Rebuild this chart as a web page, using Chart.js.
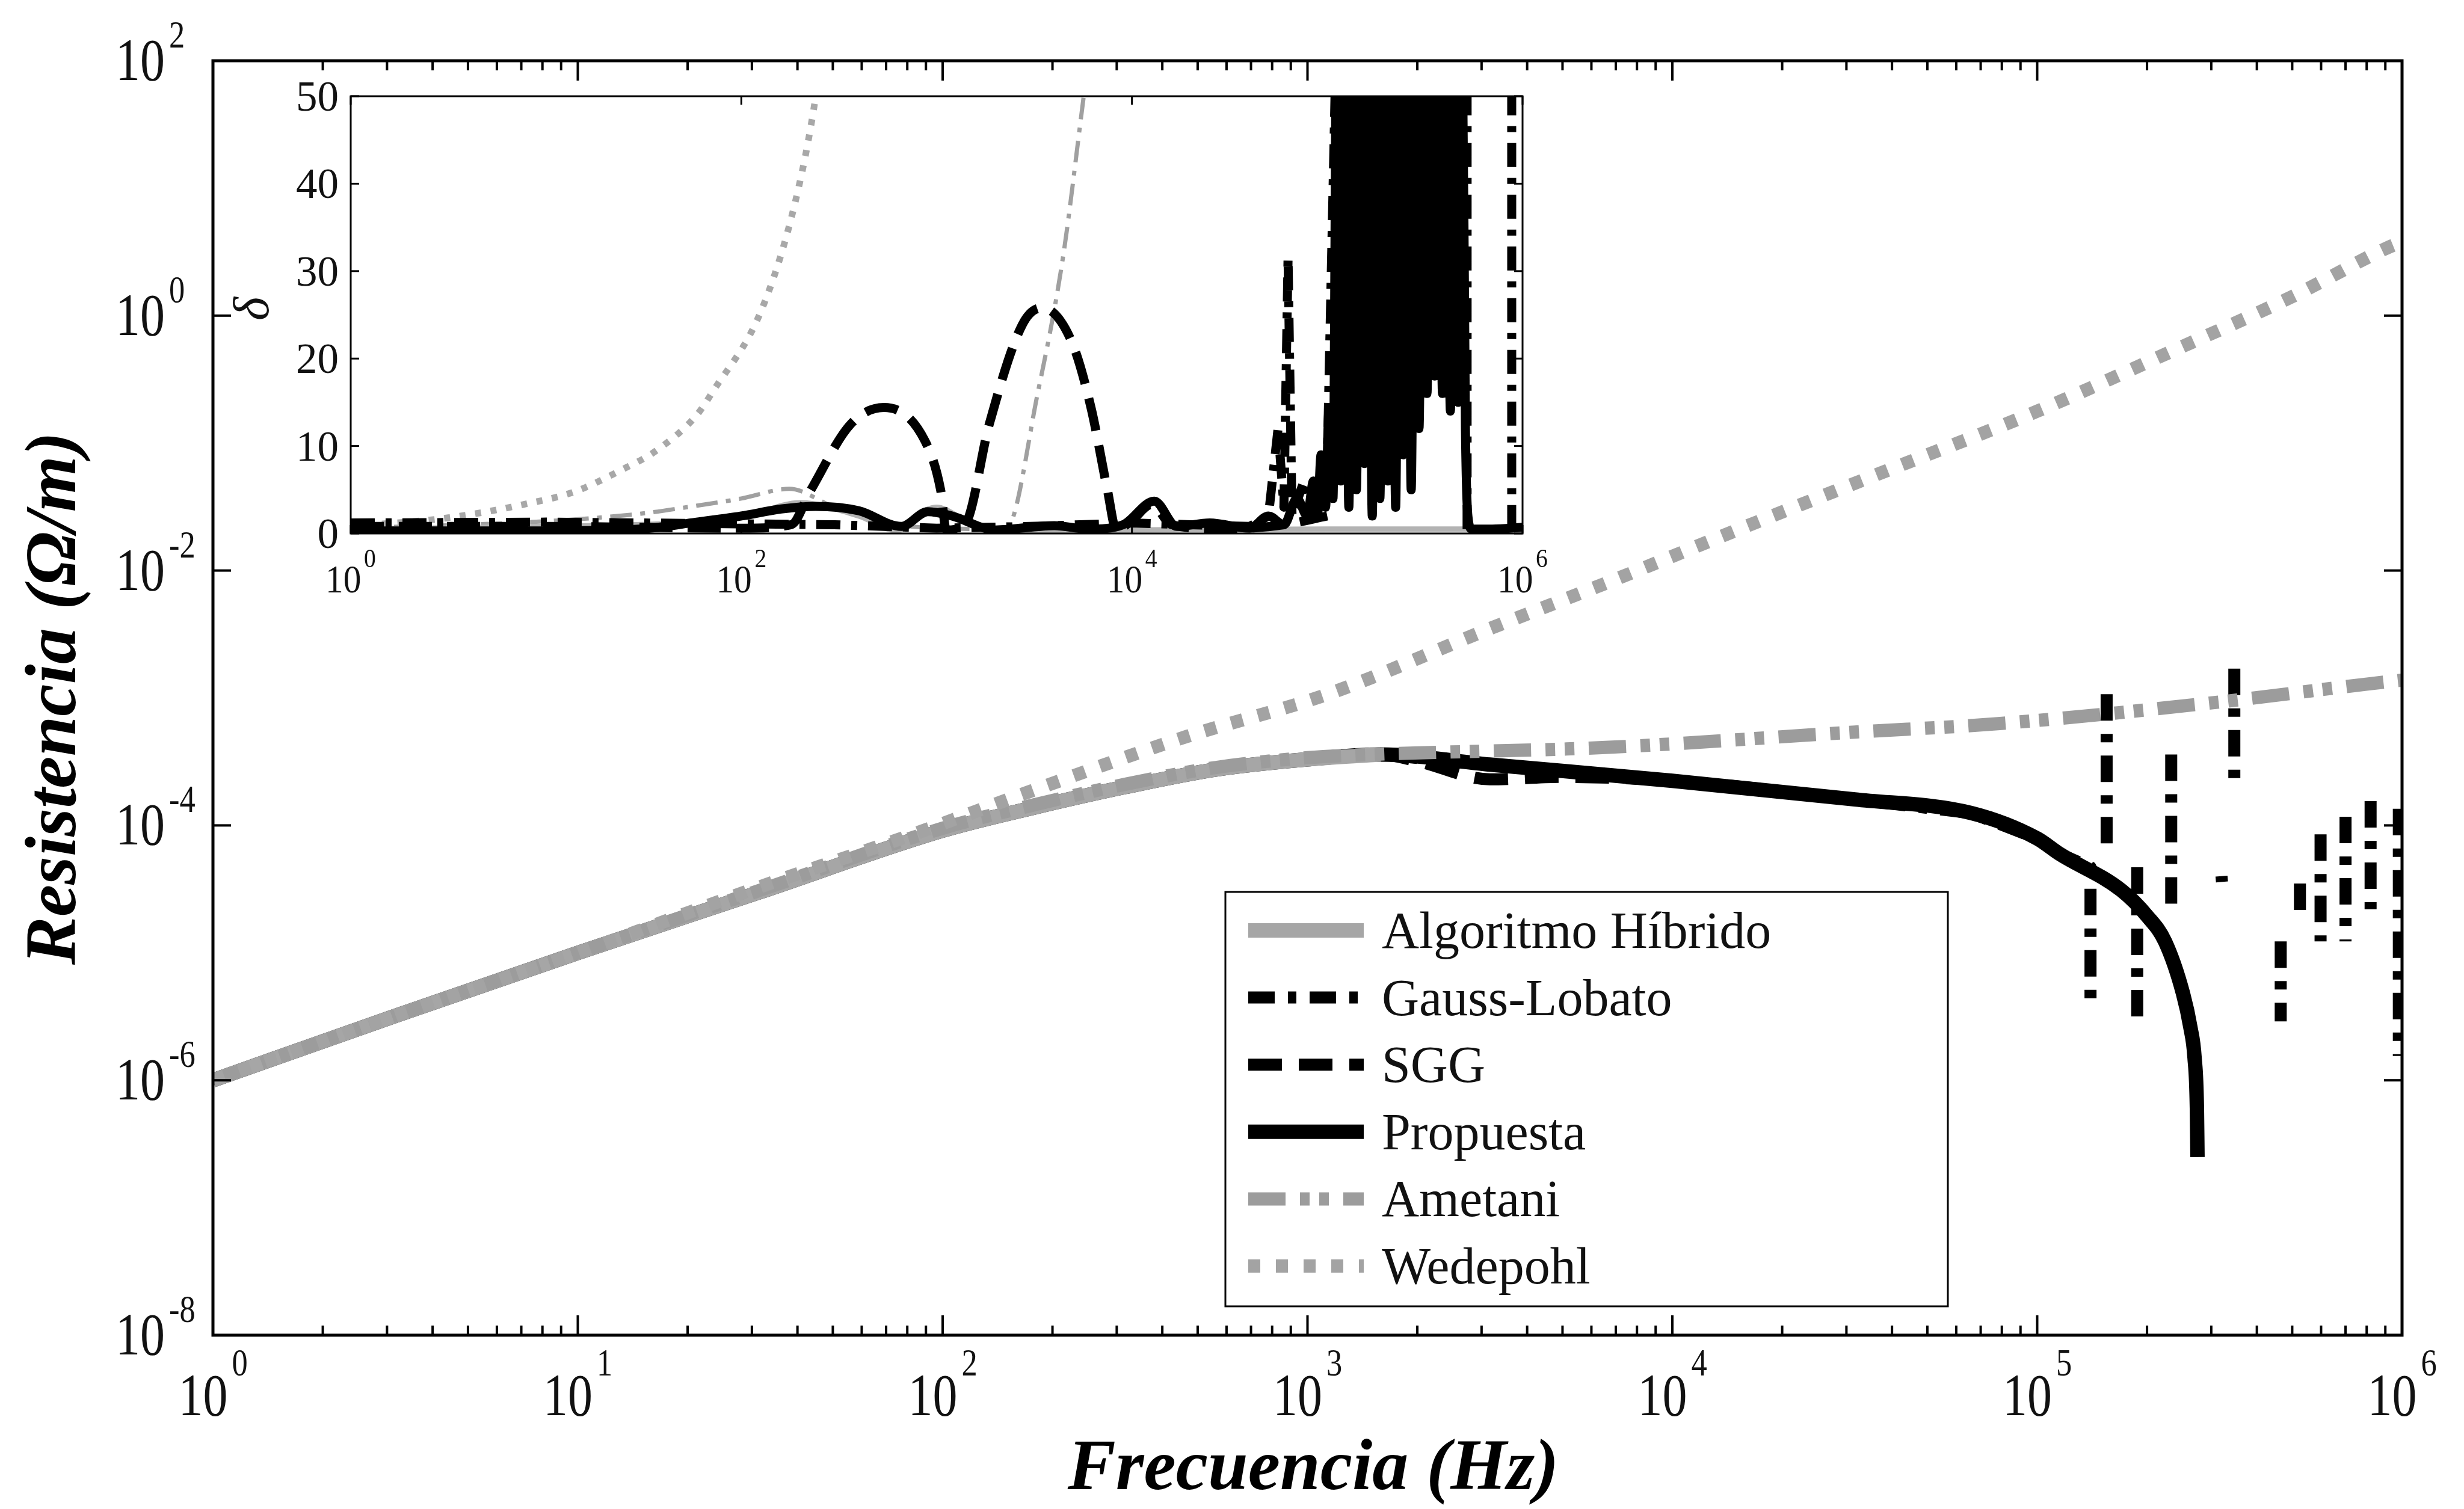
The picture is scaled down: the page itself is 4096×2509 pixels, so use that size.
<!DOCTYPE html>
<html>
<head>
<meta charset="utf-8">
<title>Resistencia vs Frecuencia</title>
<script src="https://cdn.jsdelivr.net/npm/chart.js@4.4.1/dist/chart.umd.min.js"></script>
<style>
  html, body { margin: 0; padding: 0; background: #ffffff; overflow: hidden; }
  #wrap { position: relative; width: 4096px; height: 2509px; }
  #main, #inset { position: absolute; left: 0; top: 0; }
</style>
</head>
<body>
<div id="wrap">
  <canvas id="main" width="4096" height="2509"></canvas>
  <canvas id="inset" width="2700" height="1100"></canvas>
</div>
<script>
// ---------- series names ----------
const seriesNames = ['Algoritmo Híbrido', 'Gauss-Lobato', 'SGG', 'Propuesta', 'Ametani', 'Wedepohl'];

// ---------- axis ticks ----------
const xTickExponents = [0, 1, 2, 3, 4, 5, 6];
const yTickExponents = [-8, -6, -4, -2, 0, 2];
const insetXTickExponents = [0, 2, 4, 6];
const insetYTicks = [0, 10, 20, 30, 40, 50];

const xTitle = 'Frecuencia (Hz)';
const yTitle = 'Resistencia (Ω/m)';
const insetYTitle = 'δ';

// ---------- main plot: resistance (Ω/m) vs frequency (Hz) ----------
const hibridoFreq = [1, 3.16, 10, 31.6, 100, 178, 316, 562, 1000, 1585];
const hibridoRes  = [1.0e-6, 3.2e-6, 1.0e-5, 3.0e-5, 9.1e-5, 1.38e-4, 2.0e-4, 2.75e-4, 3.3e-4, 3.6e-4];

const propFreq = [1, 3.16, 10, 31.6, 100, 178, 316, 562, 1000, 1585, 3160, 1.0e4, 3.16e4, 6.6e4, 1.0e5, 1.15e5, 1.7e5, 2.0e5, 2.24e5, 2.51e5, 2.63e5, 2.70e5, 2.74e5, 2.75e5];
const propRes  = [1.0e-6, 3.2e-6, 1.0e-5, 3.0e-5, 9.1e-5, 1.38e-4, 2.0e-4, 2.75e-4, 3.3e-4, 3.6e-4, 3.0e-4, 2.24e-4, 1.6e-4, 1.25e-4, 7.9e-5, 6.0e-5, 3.1e-5, 1.95e-5, 1.23e-5, 4.8e-6, 2.6e-6, 1.5e-6, 6.0e-7, 2.5e-7];

const sggFreq = [1, 3.16, 10, 31.6, 100, 178, 316, 562, 1000, 1585, 2000, 3160, 5000, 1.0e4, 3.16e4, 6.6e4, 1.0e5, 1.15e5, 1.7e5, 2.0e5, 2.24e5, 2.51e5, 2.63e5, 2.70e5, 2.74e5, 2.75e5];
const sggRes  = [1.0e-6, 3.2e-6, 1.0e-5, 3.0e-5, 9.1e-5, 1.38e-4, 2.0e-4, 2.75e-4, 3.3e-4, 3.6e-4, 3.2e-4, 2.3e-4, 2.4e-4, 2.24e-4, 1.6e-4, 1.25e-4, 7.9e-5, 6.0e-5, 3.1e-5, 1.95e-5, 1.23e-5, 4.8e-6, 2.6e-6, 1.5e-6, 6.0e-7, 2.5e-7];

// Gauss-Lobato breaks up into separate vertical bursts at high frequency (null = gap)
const glFreq = [1, 3.16, 10, 31.6, 100, 178, 316, 562, 1000, 1585, 3160, 1.0e4, 3.16e4, 6.6e4, 1.0e5, 1.15e5,
                1.40e5, 1.40e5, 1.47e5, 1.55e5, 1.55e5, 1.7e5, 1.88e5, 1.88e5, 2.1e5, 2.33e5, 2.33e5, 2.8e5,
                3.2e5, 3.21e5, 3.3e5, 3.47e5, 3.47e5, 4.0e5, 4.65e5, 4.65e5, 5.0e5, 5.25e5, 5.25e5, 5.6e5,
                5.98e5, 5.98e5, 6.5e5, 7.0e5, 7.0e5, 7.6e5, 8.2e5, 8.2e5, 9.0e5, 9.8e5, 9.8e5];
const glRes  = [1.0e-6, 3.2e-6, 1.0e-5, 3.0e-5, 9.1e-5, 1.38e-4, 2.0e-4, 2.75e-4, 3.3e-4, 3.6e-4, 3.0e-4, 2.24e-4, 1.6e-4, 1.25e-4, 7.9e-5, 6.0e-5,
                4.7e-5, 3.6e-6, null, 1.07e-3, 6.9e-5, null, 4.7e-5, 2.5e-6, null, 3.6e-4, 1.95e-5, null,
                4.0e-5, 3.6e-5, null, 1.7e-3, 1.9e-4, null, 1.23e-5, 2.9e-6, null, 3.5e-5, 1.8e-5, null,
                8.5e-5, 1.23e-5, null, 1.17e-4, 1.23e-5, null, 1.55e-4, 2.2e-5, null, 1.35e-4, 1.55e-6];

const ametFreq = [1, 3.16, 10, 31.6, 100, 178, 316, 562, 1000, 1480, 6680, 3.16e4, 7.9e4, 3.16e5, 8.1e5, 1.0e6];
const ametRes  = [1.0e-6, 3.2e-6, 1.0e-5, 3.1e-5, 9.5e-5, 1.45e-4, 2.1e-4, 2.85e-4, 3.4e-4, 3.6e-4, 4.1e-4, 5.4e-4, 6.3e-4, 9.3e-4, 1.29e-3, 1.38e-3];

const wedeFreq = [1, 3.16, 10, 31.6, 79, 191, 468, 1135, 3160, 6680, 1.58e4, 3.94e4, 1.0e5, 2.32e5, 5.0e5, 9.1e5, 1.0e6];
const wedeRes  = [1.0e-6, 3.2e-6, 1.0e-5, 3.3e-5, 8.1e-5, 2.04e-4, 5.0e-4, 1.07e-3, 3.5e-3, 8.1e-3, 2.2e-2, 6.2e-2, 0.178, 0.52, 1.41, 3.4, 3.8];

// ---------- inset: relative error δ vs frequency ----------
const hibInsetFreq  = [1, 10, 50, 100, 200, 400, 630, 800, 1000, 1400, 2000, 1.0e4, 1.0e5, 1.0e6];
const hibInsetDelta = [0.5, 0.8, 1.2, 1.8, 3.5, 2.0, 0.3, 2.2, 3.0, 1.5, 0.3, 0.4, 0.5, 0.5];

const glInsetFreq  = [1, 10, 100, 300, 1000, 3000, 1.0e4, 2.0e4, 4.0e4, 5.0e4, 5.6e4, 6.0e4, 6.3e4, 6.6e4, 7.6e4, 8.5e4, 1.0e5, 1.12e5, 1.26e5, 1.4e5,
                      1.5e5, 5.2e5, 5.2e5, 6.0e5, 8.8e5, 8.8e5];
const glInsetDelta = [1.2, 1.3, 1.1, 1.0, 0.6, 0.8, 1.2, 1.0, 0.8, 2.0, 12, 3.0, 31.5, 2.0, 6.0, 2.0, 8, 60, 12, 60,
                      null, 0.5, 60, null, 0.5, 60];

const sggInsetFreq  = [1, 10, 100, 180, 226, 363, 537, 871, 1050, 1120, 1400, 1860, 2750, 3470, 4900, 6170, 7500, 8320, 1.0e4, 1.26e4, 1.6e4, 3.0e4, 6.0e4, 1.0e5];
const sggInsetDelta = [0.8, 0.8, 0.6, 1.0, 4.9, 12.5, 14.4, 10.6, 4.9, 0.4, 1.1, 12.5, 23.9, 25.8, 22.0, 14.4, 4.9, 0.4, 1.5, 3.3, 1.0, 0.5, 1.0, 2.0];

const propInsetFreq  = [1, 10, 30, 59, 100, 160, 240, 400, 660, 900, 1200, 2000, 4000, 6000, 9000, 1.3e4, 1.7e4, 2.5e4, 4.0e4, 5.0e4,
                        6.0e4, 7.0e4, 7.9e4, 8.5e4, 8.9e4, 9.3e4, 9.8e4, 1.02e5, 1.07e5, 1.12e5,
                        1.17e5, 1.23e5, 1.29e5, 1.35e5, 1.41e5, 1.48e5, 1.55e5, 1.62e5, 1.70e5, 1.78e5,
                        1.86e5, 1.95e5, 2.04e5, 2.14e5, 2.24e5, 2.34e5, 2.45e5, 2.57e5, 2.69e5, 2.82e5,
                        2.95e5, 3.09e5, 3.24e5, 3.39e5, 3.55e5, 3.72e5, 3.89e5, 4.07e5, 4.27e5, 4.47e5,
                        4.68e5, 4.90e5, 5.10e5, 5.25e5, 5.5e5, 7.0e5, 1.0e6];
const propInsetDelta = [0.3, 0.3, 0.5, 1.3, 2.0, 2.8, 3.1, 2.6, 0.8, 2.5, 2.0, 0.4, 0.9, 0.5, 1.0, 3.7, 0.8, 1.2, 0.6, 2.0,
                        1.0, 4, 2, 6, 2, 9, 3, 14, 4, 60,
                        6, 60, 3, 60, 5, 60, 8, 60, 2, 60,
                        4, 60, 6, 60, 3, 60, 9, 60, 5, 60,
                        12, 60, 16, 60, 18, 60, 16, 60, 14, 60,
                        15, 60, 12, 2, 0.5, 0.5, 0.7];

const ametInsetFreq  = [1, 10, 31.6, 56, 100, 176, 300, 560, 1000, 2260, 3310, 4430, 5620, 6300];
const ametInsetDelta = [0.6, 1.4, 2.3, 3.1, 4.0, 5.1, 3.0, 1.2, 0.6, 0.5, 16.3, 31.5, 49.4, 58];

const wedeInsetFreq  = [1, 3.16, 7.6, 14.1, 24.5, 36.3, 58.9, 71.8, 126, 186, 237, 260];
const wedeInsetDelta = [0.8, 1.8, 3.3, 4.8, 7.3, 9.4, 13.5, 16.3, 25.4, 37.3, 49.1, 56];

// ---------- helpers ----------
const SERIF = '"Liberation Serif", "Times New Roman", serif';

function pairs(xs, ys) { return xs.map((x, i) => ({ x: x, y: ys[i] })); }

function line(label, xs, ys, style) {
  return Object.assign({
    label: label,
    data: pairs(xs, ys),
    pointRadius: 0,
    pointHoverRadius: 0,
    fill: false,
    borderCapStyle: 'butt',
    borderJoinStyle: 'round',
    spanGaps: false,
    clip: 0,
    borderDash: []
  }, style);
}

// "10" with a raised exponent, condensed horizontally by sx
function drawPower(ctx, exp, x, yBase, supRise, baseSize, supSize, sx, align) {
  ctx.save();
  ctx.font = baseSize + 'px ' + SERIF;
  const bw = ctx.measureText('10').width * sx;
  ctx.font = supSize + 'px ' + SERIF;
  const sw = ctx.measureText(exp).width * sx;
  const gap = baseSize * 0.07;
  const left = align === 'center' ? x - (bw + gap + sw) / 2 : x - bw;
  ctx.fillStyle = '#111';
  ctx.textAlign = 'left';
  ctx.textBaseline = 'alphabetic';
  ctx.save();
  ctx.translate(left, yBase); ctx.scale(sx, 1);
  ctx.font = baseSize + 'px ' + SERIF;
  ctx.fillText('10', 0, 0);
  ctx.restore();
  ctx.save();
  ctx.translate(left + bw + gap, yBase - supRise); ctx.scale(sx, 1);
  ctx.font = supSize + 'px ' + SERIF;
  ctx.fillText(exp, 0, 0);
  ctx.restore();
  ctx.restore();
}

function seg(ctx, x1, y1, x2, y2) {
  ctx.beginPath(); ctx.moveTo(x1, y1); ctx.lineTo(x2, y2); ctx.stroke();
}

// ---------- main chart decorations: frame, ticks, labels, legend, titles ----------
const mainDecor = {
  id: 'mainDecor',
  afterDatasetsDraw(chart) {
    const ctx = chart.ctx;
    const a = chart.chartArea;
    const xs = chart.scales.x, ys = chart.scales.y;
    ctx.save();
    ctx.strokeStyle = '#000';
    ctx.setLineDash([]);

    // tick marks (inward) on all four sides
    ctx.lineWidth = 4;
    xs.ticks.forEach((t, i) => {
      const v = t.value;
      const px = xs.getPixelForValue(v);
      seg(ctx, px, a.bottom, px, a.bottom - 33);
      seg(ctx, px, a.top, px, a.top + 33);
      if (v < xs.max) {
        for (let k = 2; k <= 9; k++) {
          const m = xs.getPixelForValue(v * k);
          seg(ctx, m, a.bottom, m, a.bottom - 16);
          seg(ctx, m, a.top, m, a.top + 16);
        }
      }
      drawPower(ctx, String(xTickExponents[i]), px, 2353, 66, 100, 64, 0.82, 'center');
    });
    ys.ticks.forEach((t, i) => {
      const py = ys.getPixelForValue(t.value);
      seg(ctx, a.left, py, a.left + 30, py);
      seg(ctx, a.right, py, a.right - 30, py);
      drawPower(ctx, String(yTickExponents[i]), 274, py + 32, 54, 100, 64, 0.82, 'right');
    });

    // frame
    ctx.lineWidth = 5;
    ctx.strokeRect(a.left, a.top, a.right - a.left, a.bottom - a.top);

    // legend
    const lx0 = 2037, ly0 = 1483, lx1 = 3238, ly1 = 2172;
    ctx.fillStyle = '#fff';
    ctx.fillRect(lx0, ly0, lx1 - lx0, ly1 - ly0);
    ctx.lineWidth = 3;
    ctx.strokeStyle = '#000';
    ctx.strokeRect(lx0, ly0, lx1 - lx0, ly1 - ly0);
    chart.data.datasets.forEach((ds, i) => {
      const yy = 1547 + i * 111.6;
      ctx.save();
      ctx.strokeStyle = ds.borderColor;
      ctx.lineWidth = ds.borderWidth;
      ctx.lineCap = 'butt';
      ctx.setLineDash(ds.borderDash || []);
      seg(ctx, 2075, yy, 2267, yy);
      ctx.restore();
      ctx.fillStyle = '#111';
      ctx.font = '86px ' + SERIF;
      ctx.textAlign = 'left';
      ctx.textBaseline = 'alphabetic';
      ctx.fillText(ds.label, 2297, yy + 29);
    });

    // axis titles
    ctx.fillStyle = '#000';
    ctx.font = 'bold italic 120px ' + SERIF;
    ctx.textAlign = 'center';
    ctx.textBaseline = 'alphabetic';
    ctx.fillText(xTitle, 2183, 2476);
    ctx.save();
    ctx.translate(125, 1161);
    ctx.rotate(-Math.PI / 2);
    ctx.fillText(yTitle, 0, 0);
    ctx.restore();

    ctx.restore();
  }
};

// ---------- inset decorations ----------
const insetDecor = {
  id: 'insetDecor',
  beforeDatasetsDraw(chart) {
    const a = chart.chartArea;
    chart.ctx.save();
    chart.ctx.fillStyle = '#fff';
    chart.ctx.fillRect(a.left, a.top, a.right - a.left, a.bottom - a.top);
    chart.ctx.restore();
  },
  afterDatasetsDraw(chart) {
    const ctx = chart.ctx;
    const a = chart.chartArea;
    const xs = chart.scales.x, ys = chart.scales.y;
    ctx.save();
    ctx.strokeStyle = '#000';
    ctx.setLineDash([]);
    ctx.lineWidth = 3;
    xs.ticks.forEach((t, i) => {
      const px = xs.getPixelForValue(t.value);
      seg(ctx, px, a.bottom, px, a.bottom - 14);
      seg(ctx, px, a.top, px, a.top + 14);
      drawPower(ctx, String(insetXTickExponents[i]), px, 985, 42, 66, 44, 0.9, 'center');
    });
    ys.ticks.forEach((t) => {
      const py = ys.getPixelForValue(t.value);
      seg(ctx, a.left, py, a.left + 14, py);
      seg(ctx, a.right, py, a.right - 14, py);
      ctx.fillStyle = '#111';
      ctx.font = '71px ' + SERIF;
      ctx.textAlign = 'right';
      ctx.textBaseline = 'alphabetic';
      ctx.fillText(String(t.value), a.left - 20, py + 24);
    });
    ctx.lineWidth = 3;
    ctx.strokeRect(a.left, a.top, a.right - a.left, a.bottom - a.top);

    // δ axis title
    ctx.fillStyle = '#111';
    ctx.font = 'italic 84px ' + SERIF;
    ctx.textAlign = 'center';
    ctx.textBaseline = 'middle';
    ctx.save();
    ctx.translate(424, (a.top + a.bottom) / 2 - 10);
    ctx.rotate(-Math.PI / 2);
    ctx.fillText(insetYTitle, 0, 0);
    ctx.restore();
    ctx.restore();
  }
};

// ---------- main chart ----------
const mainDatasets = [
  line(seriesNames[0], hibridoFreq, hibridoRes, { borderColor: '#a6a6a6', borderWidth: 24, order: 2, cubicInterpolationMode: 'monotone' }),
  line(seriesNames[1], glFreq, glRes, { borderColor: '#000000', borderWidth: 20, borderDash: [44, 22, 14, 22], order: 3, tension: 0 }),
  line(seriesNames[2], sggFreq, sggRes, { borderColor: '#000000', borderWidth: 20, borderDash: [56, 28], order: 4, cubicInterpolationMode: 'monotone' }),
  line(seriesNames[3], propFreq, propRes, { borderColor: '#000000', borderWidth: 24, order: 5, cubicInterpolationMode: 'monotone' }),
  line(seriesNames[4], ametFreq, ametRes, { borderColor: '#9c9c9c', borderWidth: 22, borderDash: [62, 24, 16, 16, 16, 24], order: 1, cubicInterpolationMode: 'monotone' }),
  line(seriesNames[5], wedeFreq, wedeRes, { borderColor: '#a3a3a3', borderWidth: 22, borderDash: [20, 26], order: 0, cubicInterpolationMode: 'monotone' })
];

new Chart(document.getElementById('main'), {
  type: 'line',
  data: { datasets: mainDatasets },
  options: {
    responsive: false,
    animation: false,
    devicePixelRatio: 1,
    events: [],
    layout: { padding: { left: 354, top: 101, right: 103, bottom: 289 } },
    plugins: { legend: { display: false }, tooltip: { enabled: false }, title: { display: false } },
    scales: {
      x: {
        type: 'logarithmic', min: 1, max: 1e6, display: false,
        afterBuildTicks: (s) => { s.ticks = xTickExponents.map(e => ({ value: Math.pow(10, e) })); }
      },
      y: {
        type: 'logarithmic', min: 1e-8, max: 1e2, display: false,
        afterBuildTicks: (s) => { s.ticks = yTickExponents.map(e => ({ value: Math.pow(10, e) })); }
      }
    }
  },
  plugins: [mainDecor]
});

// ---------- inset chart ----------
const insetDatasets = [
  line(seriesNames[0], hibInsetFreq, hibInsetDelta, { borderColor: '#b3b3b3', borderWidth: 9, order: 3, cubicInterpolationMode: 'monotone' }),
  line(seriesNames[1], glInsetFreq, glInsetDelta, { borderColor: '#000000', borderWidth: 15, borderDash: [40, 18, 10, 18], order: 0, tension: 0 }),
  line(seriesNames[2], sggInsetFreq, sggInsetDelta, { borderColor: '#000000', borderWidth: 15, borderDash: [55, 25], order: 1, cubicInterpolationMode: 'monotone' }),
  line(seriesNames[3], propInsetFreq, propInsetDelta, { borderColor: '#000000', borderWidth: 15, order: 2, cubicInterpolationMode: 'monotone' }),
  line(seriesNames[4], ametInsetFreq, ametInsetDelta, { borderColor: '#a0a0a0', borderWidth: 7, borderDash: [36, 14, 8, 14], order: 4, cubicInterpolationMode: 'monotone' }),
  line(seriesNames[5], wedeInsetFreq, wedeInsetDelta, { borderColor: '#a8a8a8', borderWidth: 11, borderDash: [10, 16], order: 5, cubicInterpolationMode: 'monotone' })
];

new Chart(document.getElementById('inset'), {
  type: 'line',
  data: { datasets: insetDatasets },
  options: {
    responsive: false,
    animation: false,
    devicePixelRatio: 1,
    events: [],
    layout: { padding: { left: 583, top: 160, right: 169, bottom: 213 } },
    plugins: { legend: { display: false }, tooltip: { enabled: false }, title: { display: false } },
    scales: {
      x: {
        type: 'logarithmic', min: 1, max: 1e6, display: false,
        afterBuildTicks: (s) => { s.ticks = insetXTickExponents.map(e => ({ value: Math.pow(10, e) })); }
      },
      y: {
        type: 'linear', min: 0, max: 50, display: false,
        afterBuildTicks: (s) => { s.ticks = insetYTicks.map(v => ({ value: v })); }
      }
    }
  },
  plugins: [insetDecor]
});
</script>
</body>
</html>
